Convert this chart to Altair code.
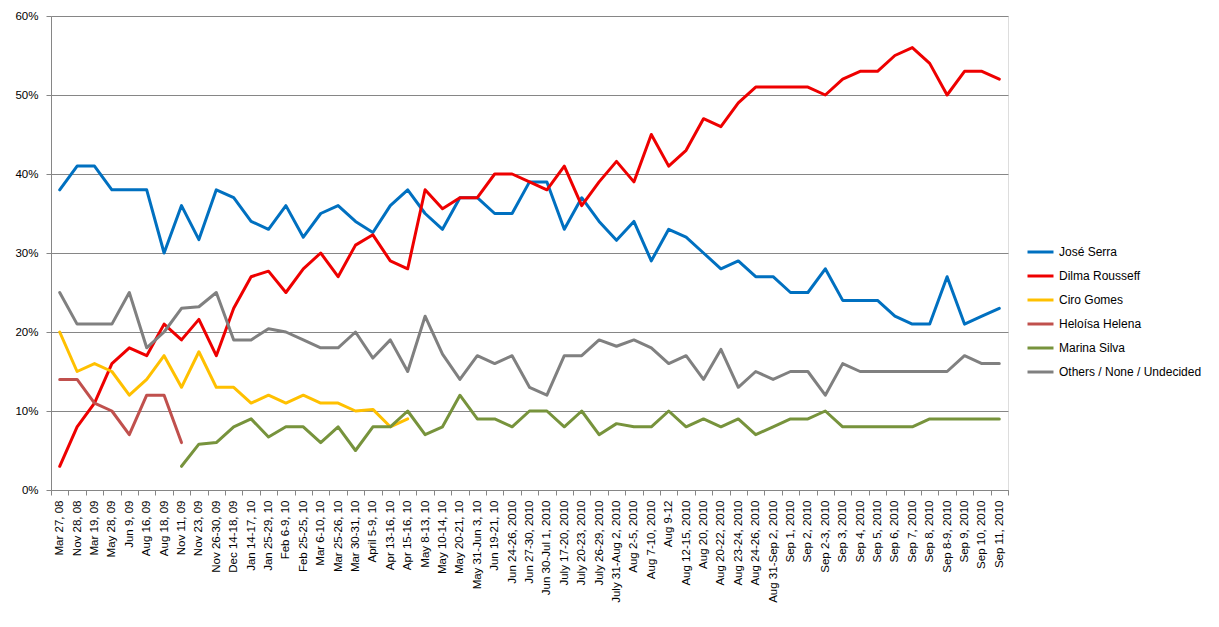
import altair as alt
import pandas as pd

categories = [
    "Mar 27, 08", "Nov 28, 08", "Mar 19, 09", "May 28, 09", "Jun 9, 09",
    "Aug 16, 09", "Aug 18, 09", "Nov 11, 09", "Nov 23, 09", "Nov 26-30, 09",
    "Dec 14-18, 09", "Jan 14-17, 10", "Jan 25-29, 10", "Feb 6-9, 10", "Feb 25-25, 10",
    "Mar 6-10, 10", "Mar 25-26, 10", "Mar 30-31, 10", "April 5-9, 10", "Apr 13-16, 10",
    "Apr 15-16, 10", "May 8-13, 10", "May 10-14, 10", "May 20-21, 10", "May 31-Jun 3, 10",
    "Jun 19-21, 10", "Jun 24-26, 2010", "Jun 27-30, 2010", "Jun 30-Jul 1, 2010", "July 17-20, 2010",
    "July 20-23, 2010", "July 26-29, 2010", "July 31-Aug 2, 2010", "Aug 2-5, 2010", "Aug 7-10, 2010",
    "Aug 9-12", "Aug 12-15, 2010", "Aug 20, 2010", "Aug 20-22, 2010", "Aug 23-24, 2010",
    "Aug 24-26, 2010", "Aug 31-Sep 2, 2010", "Sep 1, 2010", "Sep 2, 2010", "Sep 2-3, 2010",
    "Sep 3, 2010", "Sep 4, 2010", "Sep 5, 2010", "Sep 6, 2010", "Sep 7, 2010",
    "Sep 8, 2010", "Sep 8-9, 2010", "Sep 9, 2010", "Sep 10, 2010", "Sep 11, 2010",
]

N = None
serra = [38, 41, 41, 38, 38, 38, 30, 36, 31.7, 38,
         37, 34, 33, 36, 32, 35, 36, 34, 32.6, 36,
         38, 35, 33, 37, 37, 35, 35, 39, 39, 33,
         37, 34, 31.6, 34, 29, 33, 32, 30, 28, 29,
         27, 27, 25, 25, 28, 24, 24, 24, 22, 21,
         21, 27, 21, 22, 23]
dilma = [3, 8, 11, 16, 18, 17, 21, 19, 21.6, 17,
         23, 27, 27.7, 25, 28, 30, 27, 31, 32.3, 29,
         28, 38, 35.6, 37, 37, 40, 40, 39, 38, 41,
         36, 39, 41.6, 39, 45, 41, 43, 47, 46, 49,
         51, 51, 51, 51, 50, 52, 53, 53, 55, 56,
         54, 50, 53, 53, 52]
ciro = [20, 15, 16, 15, 12, 14, 17, 13, 17.5, 13,
        13, 11, 12, 11, 12, 11, 11, 10, 10.2, 8,
        9] + [N] * 34
heloisa = [14, 14, 11, 10, 7, 12, 12, 6] + [N] * 47
marina = [N] * 7 + [3, 5.8, 6,
          8, 9, 6.7, 8, 8, 6, 8, 5, 8, 8,
          10, 7, 8, 12, 9, 9, 8, 10, 10, 8,
          10, 7, 8.4, 8, 8, 10, 8, 9, 8, 9,
          7, 8, 9, 9, 10, 8, 8, 8, 8, 8,
          9, 9, 9, 9, 9]
others = [25, 21, 21, 21, 25, 18, 20, 23, 23.2, 25,
          19, 19, 20.4, 20, 19, 18, 18, 20, 16.7, 19,
          15, 22, 17.2, 14, 17, 16, 17, 13, 12, 17,
          17, 19, 18.2, 19, 18, 16, 17, 14, 17.8, 13,
          15, 14, 15, 15, 12, 16, 15, 15, 15, 15,
          15, 15, 17, 16, 16]

series_names = ["José Serra", "Dilma Rousseff", "Ciro Gomes",
                "Heloísa Helena", "Marina Silva", "Others / None / Undecided"]
series_colors = ["#0070C0", "#EE0000", "#FFC000", "#C0504D", "#77933C", "#808080"]
y_ticks = [0, 10, 20, 30, 40, 50, 60]

rows = []
for name, vals in zip(series_names, [serra, dilma, ciro, heloisa, marina, others]):
    for cat, v in zip(categories, vals):
        if v is not None:
            rows.append({"poll": cat, "series": name, "value": v})
df = pd.DataFrame(rows)

FONT = "Liberation Sans"

x_enc = alt.X(
    "poll:N",
    sort=categories,
    bandPosition=0.5,
    scale=alt.Scale(type="band", domain=categories, paddingInner=0, paddingOuter=0),
    axis=alt.Axis(
        title=None,
        labelAngle=270,
        labelFontSize=11.5,
        labelFont=FONT,
        labelColor="#000000",
        labelPadding=5,
        tickBand="extent",
        tickSize=5,
        tickColor="#868686",
        domainColor="#868686",
        grid=False,
        labelOverlap=False,
    ),
)

y_enc = alt.Y(
    "value:Q",
    scale=alt.Scale(domain=[0, 60], nice=False),
    axis=alt.Axis(
        title=None,
        values=y_ticks,
        labelExpr="datum.value + '%'",
        labelFontSize=11.5,
        labelFont=FONT,
        labelColor="#000000",
        labelPadding=8,
        tickSize=5,
        tickColor="#868686",
        domainColor="#868686",
        gridColor="#868686",
        gridWidth=1,
    ),
)

chart = (
    alt.Chart(df)
    .mark_line(strokeWidth=3, strokeJoin="round", strokeCap="round")
    .encode(
        x=x_enc,
        y=y_enc,
        color=alt.Color(
            "series:N",
            scale=alt.Scale(domain=series_names, range=series_colors),
            sort=series_names,
            legend=alt.Legend(
                title=None,
                orient="none",
                legendX=975,
                legendY=226,
                symbolType="stroke",
                symbolSize=676,
                symbolStrokeWidth=3,
                clipHeight=20,
                rowPadding=4,
                labelOffset=4,
                labelFontSize=12,
                labelLimit=200,
                labelFont=FONT,
                labelColor="#000000",
            ),
        ),
        order=alt.Order("series:N"),
    )
    .properties(
        width=957,
        height=474,
        autosize=alt.AutoSizeParams(type="none"),
        padding={"left": 43, "top": 8, "right": 198, "bottom": 125},
    )
    .configure_view(stroke=None)
    .configure(background="#FFFFFF")
)

chart.save("out.html", embed_options={"renderer": "svg", "actions": False})
